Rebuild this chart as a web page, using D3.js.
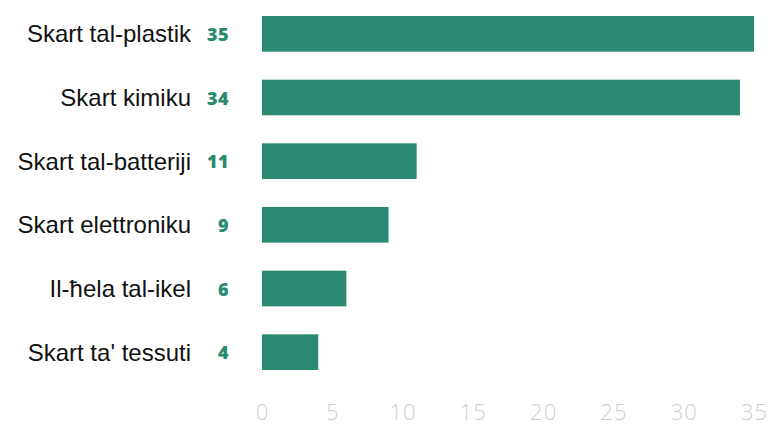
<!DOCTYPE html>
<html lang="mt">
<head>
<meta charset="UTF-8">
<script src="https://d3js.org/d3.v7.min.js"></script>
<style>
  body { margin: 0; background: #fff; }
  .cat { font-family: "Liberation Sans", Arial, sans-serif; font-size: 24px; fill: #111; }
  .val { font-family: "Open Sans", sans-serif; font-size: 18px; font-weight: 800; fill: #2a8a72; letter-spacing: 0.5px; }
  .tick text { font-family: "Open Sans", sans-serif; font-size: 22px; font-weight: 300; fill: #cfcfcf; letter-spacing: 1px; }
</style>
<title>Skart</title>
</head>
<body>
<div id="chart"></div>
<script>
// data
const categories = ["Skart tal-plastik", "Skart kimiku", "Skart tal-batteriji",
                    "Skart elettroniku", "Il-ħela tal-ikel", "Skart ta' tessuti"];
const values = [35, 34, 11, 9, 6, 4];
const ticks = [0, 5, 10, 15, 20, 25, 30, 35];

const width = 771, height = 428;

const svg = d3.select("#chart").append("svg")
    .attr("width", width)
    .attr("height", height);

const x = d3.scaleLinear().domain([0, 35]).range([262, 754]);
const y = d3.scaleBand().domain(categories).range([2, 384])
    .paddingInner(0.44).paddingOuter(0.22);

// bars
svg.selectAll(".bar")
    .data(categories)
    .enter().append("rect")
    .attr("class", "bar")
    .attr("x", x(0))
    .attr("y", d => y(d))
    .attr("width", (d, i) => x(values[i]) - x(0))
    .attr("height", y.bandwidth())
    .attr("fill", "#2a8a72");

// category labels
svg.selectAll(".cat")
    .data(categories)
    .enter().append("text")
    .attr("class", "cat")
    .attr("x", 191)
    .attr("y", d => y(d) + y.bandwidth() / 2)
    .attr("dy", "0.35em")
    .attr("text-anchor", "end")
    .text(d => d);

// value labels
svg.selectAll(".val")
    .data(categories)
    .enter().append("text")
    .attr("class", "val")
    .attr("x", 229)
    .attr("y", d => y(d) + y.bandwidth() / 2)
    .attr("dy", "0.4em")
    .attr("text-anchor", "end")
    .text((d, i) => values[i]);

// x axis, labels only
const axis = svg.append("g")
    .attr("transform", "translate(0,404)")
    .call(d3.axisBottom(x).tickValues(ticks).tickSize(0).tickPadding(0));
axis.select(".domain").remove();
</script>
</body>
</html>
